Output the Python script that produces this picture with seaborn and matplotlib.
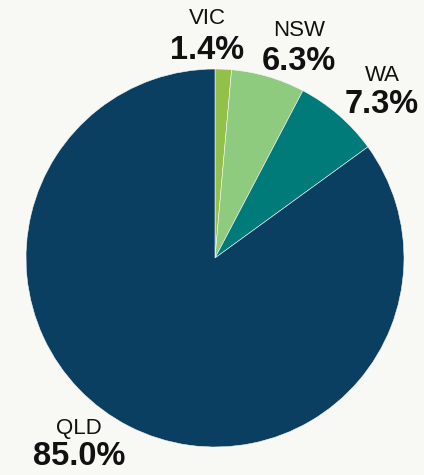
import matplotlib
matplotlib.use('Agg')
import matplotlib.pyplot as plt
import seaborn as sns

states = ['VIC', 'NSW', 'WA', 'QLD']
shares = [1.4, 6.3, 7.3, 85.0]
colors = ['#93c04b', '#8fcb7e', '#017a7a', '#0b3f62']

# label baselines in pixels (name, percent), x centre
label_px = [(207, 24, 59), (299, 36, 70), (382, 81, 113), (79, 434, 465)]

bg = '#f8f8f4'
sns.set_style('white')
plt.rcParams['font.family'] = ['Liberation Sans', 'DejaVu Sans']

W, H = 424, 475
cx, cy, r = 215, 258, 189

fig = plt.figure(figsize=(W / 100, H / 100), dpi=100, facecolor=bg)
ax = fig.add_axes([0, 0, 1, 1])
ax.set_facecolor(bg)

ax.pie(shares, colors=colors, startangle=90, counterclock=False,
       radius=1, wedgeprops=dict(edgecolor=bg, linewidth=0.4))

ax.set_xlim(-cx / r, (W - cx) / r)
ax.set_ylim(-(H - cy) / r, cy / r)
ax.set_aspect('equal')
ax.axis('off')

for name, val, (px, py_name, py_val) in zip(states, shares, label_px):
    ax.text((px - cx) / r, (cy - py_name) / r, name, ha='center', va='baseline',
            fontsize=16, color='#111111')
    ax.text((px - cx) / r, (cy - py_val) / r, f'{val:.1f}%', ha='center', va='baseline',
            fontsize=23.5, fontweight='bold', color='#111111')

fig.savefig('out.png', dpi=100, facecolor=bg)
